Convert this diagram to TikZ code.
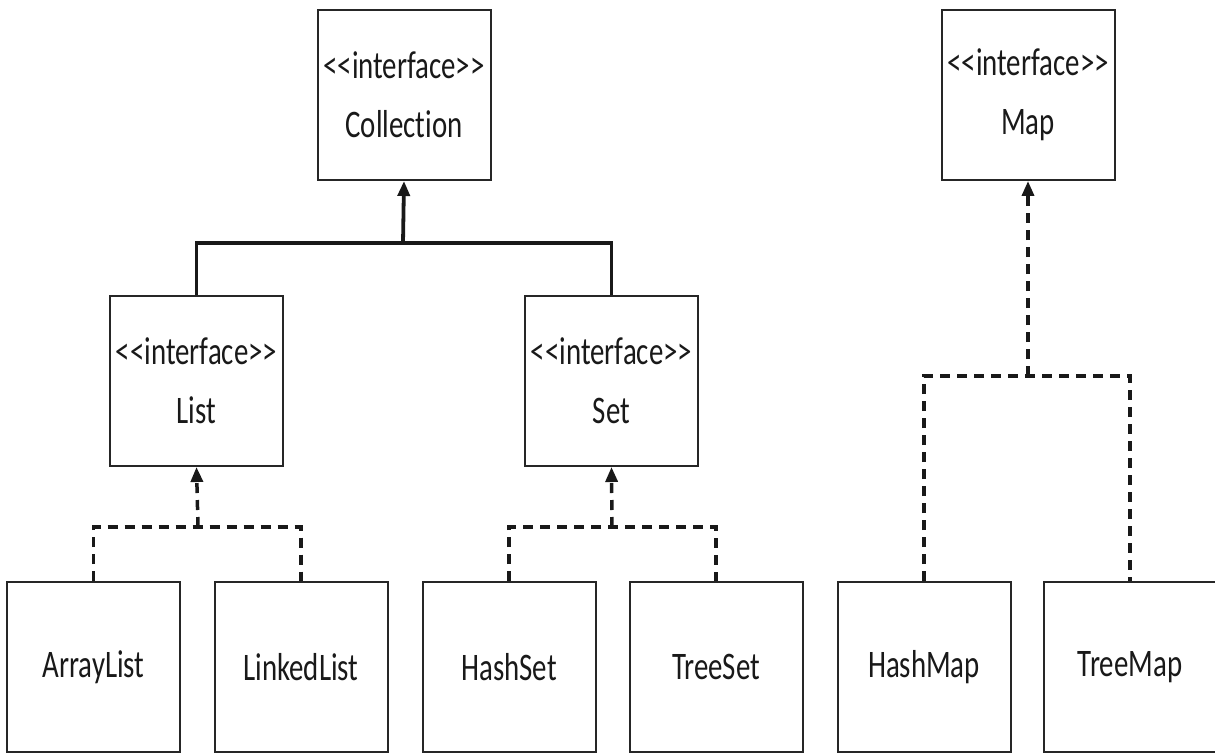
\documentclass[tikz,border=0pt]{standalone}
\usepackage{fontspec}
\setmainfont{Carlito}[FakeStretch=0.74,Ligatures={NoCommon}]
\usetikzlibrary{arrows.meta}
\begin{document}
\begin{tikzpicture}[x=1pt,y=-1pt,
  box/.style={draw=black!85,line width=2pt,minimum width=173pt,minimum height=170pt,
    align=center,inner sep=0pt,font=\fontsize{39}{59}\selectfont,text=black!90},
  solidconn/.style={line width=3.8pt,black!90},
  dashconn/.style={line width=3.5pt,black!90,dash pattern=on 10pt off 7pt},
  tip/.style={-{Triangle[width=12pt,length=15pt]}}]
\useasboundingbox (0,0) rectangle (1215,754);
% interfaces
\node[box] (collection) at (404,95) {<{}<interface>{}>\\Collection};
\node[box] (map) at (1028,95) {<{}<interface>{}>\\Map};
\node[box] (list) at (196.5,381) {<{}<interface>{}>\\List};
\node[box] (set) at (611.5,381) {<{}<interface>{}>\\Set};
% classes
\node[box] (arraylist) at (93.5,667) {ArrayList};
\node[box] (linkedlist) at (301,667) {LinkedList};
\node[box] (hashset) at (509,667) {HashSet};
\node[box] (treeset) at (716,667) {TreeSet};
\node[box] (hashmap) at (924,667) {HashMap};
\node[box] (treemap) at (1130,667) {TreeMap};
% bar coordinates
\coordinate (cbar) at (403,243);
\coordinate (lbar) at (198,527);
\coordinate (sbar) at (612,527);
\coordinate (mbar) at (1028,376);
% Collection hierarchy
\draw[solidconn] (list.north) -- (list.north |- cbar) -- (set.north |- cbar) -- (set.north);
\draw[solidconn,tip] (cbar) -- (collection.south);
% List implementations
\draw[dashconn] (arraylist.north) -- (arraylist.north |- lbar) -- (linkedlist.north |- lbar) -- (linkedlist.north);
\draw[dashconn,tip] (lbar) -- (list.south);
% Set implementations
\draw[dashconn] (hashset.north) -- (hashset.north |- sbar) -- (treeset.north |- sbar) -- (treeset.north);
\draw[dashconn,tip] (sbar) -- (set.south);
% Map implementations
\draw[dashconn] (hashmap.north) -- (hashmap.north |- mbar) -- (treemap.north |- mbar) -- (treemap.north);
\draw[dashconn,tip] (mbar) -- (map.south);
\end{tikzpicture}
\end{document}
